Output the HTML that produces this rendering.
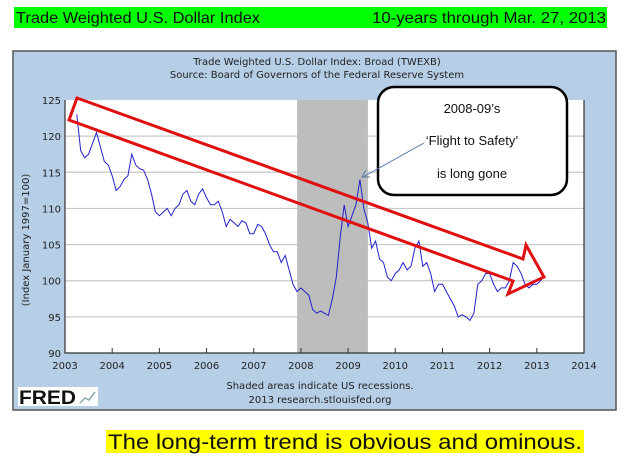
<!DOCTYPE html>
<html><head><meta charset="utf-8"><style>
html,body{margin:0;padding:0;background:#fff;width:624px;height:465px;overflow:hidden}
svg{display:block}
</style></head><body>
<svg id="c" width="624" height="465" viewBox="0 0 624 465" xmlns="http://www.w3.org/2000/svg">
<rect x="14" y="7" width="593" height="21" fill="#00ff00"/>
<text x="16" y="23" font-family="Liberation Sans, sans-serif" font-size="16" fill="#111" textLength="244" lengthAdjust="spacingAndGlyphs">Trade Weighted U.S. Dollar Index</text>
<text x="606" y="23" text-anchor="end" font-family="Liberation Sans, sans-serif" font-size="16" fill="#111" textLength="234" lengthAdjust="spacingAndGlyphs">10-years through Mar. 27, 2013</text>
<rect x="13" y="51" width="603" height="359" fill="#b6cee6" stroke="#555" stroke-width="1.5"/>
<text x="317" y="65" text-anchor="middle" font-family="DejaVu Sans, sans-serif" font-size="10" fill="#222">Trade Weighted U.S. Dollar Index: Broad (TWEXB)</text>
<text x="317" y="78" text-anchor="middle" font-family="DejaVu Sans, sans-serif" font-size="10" fill="#222">Source: Board of Governors of the Federal Reserve System</text>
<rect x="65" y="100" width="519" height="253" fill="#fff"/>
<g id="grid"></g>
<g id="rec"></g>
<g id="axes"></g>
<polyline id="line" fill="none" stroke="#2222cc" stroke-width="1"/>
<text transform="translate(29,240) rotate(-90)" text-anchor="middle" font-family="DejaVu Sans, sans-serif" font-size="10" fill="#222">(Index January 1997=100)</text>
<polygon points="77,98 523,259 526,245 544,277 508,294 513,281 69,120" fill="none" stroke="#e01010" stroke-width="3" stroke-linejoin="miter"/>
<rect x="378" y="87" width="189" height="108" rx="16" fill="#fff" stroke="#000" stroke-width="2.5"/>
<text x="472" y="113" text-anchor="middle" font-family="Liberation Sans, sans-serif" font-size="13" fill="#111">2008-09’s</text>
<text x="472" y="145" text-anchor="middle" font-family="Liberation Sans, sans-serif" font-size="13" fill="#111">‘Flight to Safety’</text>
<text x="472" y="178" text-anchor="middle" font-family="Liberation Sans, sans-serif" font-size="13" fill="#111">is long gone</text>
<line x1="424" y1="143" x2="363" y2="177" stroke="#5577aa" stroke-width="1"/>
<polyline points="366,170 362,177 370,177" fill="none" stroke="#5577aa" stroke-width="1"/>
<text x="320" y="389" text-anchor="middle" font-family="DejaVu Sans, sans-serif" font-size="10" fill="#222">Shaded areas indicate US recessions.</text>
<text x="320" y="403" text-anchor="middle" font-family="DejaVu Sans, sans-serif" font-size="10" fill="#222">2013 research.stlouisfed.org</text>
<rect x="18" y="387" width="80" height="19" fill="#fff"/>
<text x="19" y="404" font-family="Liberation Sans, sans-serif" font-weight="bold" font-size="19" fill="#111" textLength="57" lengthAdjust="spacingAndGlyphs">FRED</text>
<polyline points="80,403 85,398 89,400 95,392" fill="none" stroke="#8aa" stroke-width="1.5"/>
<rect x="106" y="430" width="478" height="23" fill="#ffff00"/>
<text x="108" y="449" font-family="Liberation Sans, sans-serif" font-size="21" fill="#111" textLength="474" lengthAdjust="spacingAndGlyphs">The long-term trend is obvious and ominous.</text>
</svg>
<script>
const yTicks=[90,95,100,105,110,115,120,125];
const xTicks=[2003,2004,2005,2006,2007,2008,2009,2010,2011,2012,2013,2014];
const recessions=[[2007.92,2009.42]];
const startYear=2003.25;
const values=[123,118,117,117.5,119,120.5,118.5,116.5,116,114.5,
112.5,113,114,114.5,117.5,116,115.5,115.3,114,112,109.5,109,
109.5,110,109,110,110.5,112,112.5,111,110.5,112,112.7,111.5,
110.5,110.5,111,109.5,107.5,108.5,108,107.5,108.3,108,106.5,106.5,
107.8,107.5,106.5,105,104,104,102.5,103.5,101.5,99.5,98.5,99,
98.5,98,96,95.5,95.8,95.5,95.2,97.5,100.5,106,110.5,107.5,
109,110.5,114,110,108,104.5,105.5,103,102.5,100.5,100,101,
101.5,102.5,101.5,102,104.5,105.5,102,102.5,101,98.5,99.5,99.5,
98.5,97.5,96.5,95,95.3,95,94.5,95.5,99.5,100,101,101,
99.5,98.5,99,99,100,102.5,102,101,99.5,99,99.5,
99.5,100,100.7];
const X0=65,X1=584,Y0=353,Y1=100;
const xs=t=>X0+(t-2003)/(2014-2003)*(X1-X0);
const ys=v=>Y0-(v-90)/(125-90)*(Y0-Y1);
const NS='http://www.w3.org/2000/svg';
function mk(tag,attrs,parent){const e=document.createElementNS(NS,tag);for(const k in attrs)e.setAttribute(k,attrs[k]);document.getElementById(parent).appendChild(e);return e;}
yTicks.forEach(v=>{
 if(v>90&&v<125){const l=mk('line',{x1:X0,x2:X1,y1:ys(v),y2:ys(v),stroke:'#c8c8c8','stroke-width':1.2},'grid');
 
 }
 const t=mk('text',{x:X0-4,y:ys(v)+4,'text-anchor':'end','font-family':'DejaVu Sans, sans-serif','font-size':10,fill:'#222'},'axes');
 t.textContent=v;
 
 
});
recessions.forEach((r,i)=>{
 const e=mk('rect',{x:xs(r[0]),y:Y1,width:xs(r[1])-xs(r[0]),height:Y0-Y1,fill:'#bdbdbd'},'rec');
 
 
});
const ax=mk('polyline',{points:`${X0},${Y1} ${X0},${Y0} ${X1},${Y0} ${X1},${Y1}`,fill:'none',stroke:'#333','stroke-width':1.2},'axes');


xTicks.forEach(y=>{
 const tk=mk('line',{x1:xs(y),x2:xs(y),y1:Y0,y2:Y0-5,stroke:'#333'},'axes');
 
 
 const t=mk('text',{x:xs(y),y:369,'text-anchor':'middle','font-family':'DejaVu Sans, sans-serif','font-size':10,fill:'#222'},'axes');
 t.textContent=y;
 
 
});
document.getElementById('line').setAttribute('points',values.map((v,i)=>xs(startYear+i/12).toFixed(1)+','+ys(v).toFixed(1)).join(' '));
</script>
</body></html>
